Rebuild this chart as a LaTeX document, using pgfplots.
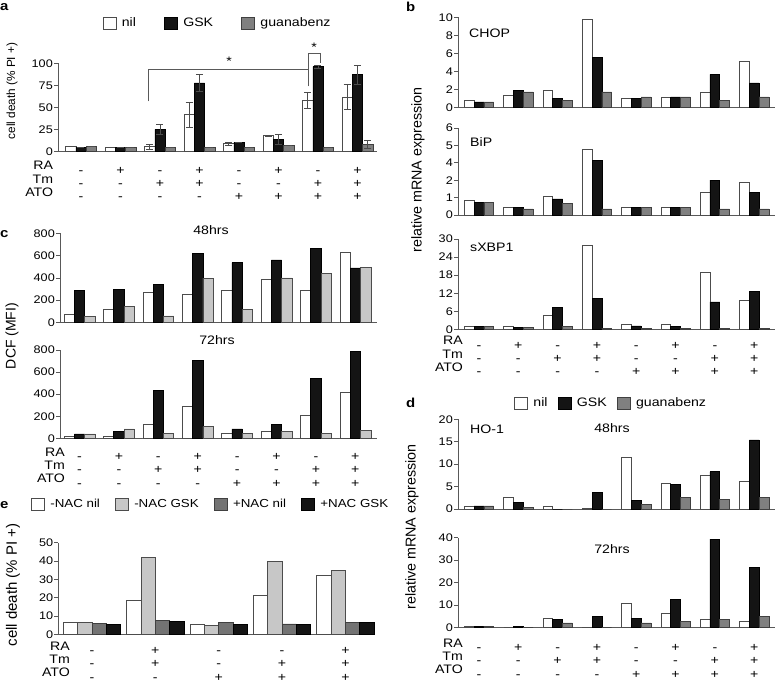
\documentclass[border=0pt]{standalone}
\usepackage{fontspec}
\setmainfont{Liberation Sans}[FakeStretch=1.15]
\newfontfamily\vfont{Liberation Sans}
\usepackage{pgfplots}
\pgfplotsset{compat=1.18}
\usepackage{pgfplotstable}

\newcommand\tickfont{\fontsize{11}{13}\selectfont}
\newcommand\labfont{\fontsize{12.3}{13.3}\selectfont}
\newcommand\sg[3]{\strut#1\\\strut#2\\\rule{0pt}{.7\baselineskip}#3}

\definecolor{gskc}{gray}{0.08}
\definecolor{guac}{gray}{0.50}
\definecolor{lgray}{gray}{0.78}
\definecolor{dgray}{gray}{0.45}

\pgfplotstableread{
x nil nile gsk gske gua guae
0 6 0 5 0 5.5 0
1 4.7 0 4.3 0 4.3 0
2 5.5 3 25 6 5 0
3 41.8 14 78 9.5 5 0
4 8.8 1.5 10.4 0 5 0
5 18 0.5 14.2 5.8 6.5 0
6 58 8.8 96.4 2 5 0
7 61.8 14.2 87.5 10.8 8 4.5
}\dataA

\pgfplotstableread{
x nil gsk gua
0 0.85 0.65 0.65
1 1.4 1.9 1.75
2 1.9 1.05 0.85
3 9.85 5.6 1.75
4 1.05 1.05 1.2
5 1.2 1.2 1.2
6 1.7 3.7 0.85
7 5.1 2.75 1.2
}\dataChop

\pgfplotstableread{
x nil gsk gua
0 0.85 0.72 0.72
1 0.45 0.45 0.35
2 1.05 0.92 0.65
3 3.78 3.14 0.35
4 0.45 0.45 0.45
5 0.45 0.45 0.45
6 1.3 2.0 0.35
7 1.86 1.32 0.35
}\dataBip

\pgfplotstableread{
x nil gsk gua
0 1.0 0.9 0.9
1 1.0 0.5 0.5
2 4.8 7.3 1.0
3 28 10.2 0.4
4 1.6 1.1 0.4
5 1.6 1.0 0.4
6 19.1 9.1 0.4
7 9.6 12.6 0.4
}\dataXbp

\pgfplotstableread{
x nil gsk gua
0 75 285 58
1 117 297 143
2 270 343 60
3 255 618 398
4 285 537 117
5 383 562 400
6 285 662 440
7 633 490 495
}\dataCa

\pgfplotstableread{
x nil gsk gua
0 22 40 40
1 22 62 85
2 127 435 42
3 293 708 105
4 42 85 42
5 62 125 65
6 208 542 42
7 415 790 68
}\dataCb

\pgfplotstableread{
x nil gsk gua
0 0.7 0.7 0.7
1 2.6 1.55 0.35
2 0.7 0 0
3 0.2 3.7 0
4 11.5 1.85 1.0
5 5.8 5.5 2.6
6 7.6 8.3 2.2
7 6.15 15.4 2.6
}\dataDa

\pgfplotstableread{
x nil gsk gua
0 0.5 0.5 0.5
1 0 0.5 0
2 4.2 3.4 2.0
3 0 4.7 0
4 10.5 4.0 2.0
5 6.2 12.5 2.7
6 3.5 39.4 3.5
7 2.7 26.6 4.7
}\dataDb

\pgfplotstableread{
x mnil mgsk pnil pgsk
0 6.5 6.5 5.8 5.3
1 18.5 42 7.8 6.9
2 5.5 4.9 6.4 5.3
3 21.3 40 5.7 5.3
4 32.4 35 6.5 6.7
}\dataE

\pgfplotsset{
  base/.style={
    scale only axis, clip=false, anchor=south west,
    axis x line*=bottom, axis y line*=left,
    axis line style={black!65, line width=0.8pt},
    tick align=outside, major tick length=4pt,
    ytick pos=left,
    ytick style={black!65, line width=0.8pt},
    xtick={0,...,7}, xtick style={draw=none},
    xticklabels={},
    yticklabel style={font=\tickfont, inner sep=1pt},
    /pgf/number format/assume math mode=true,
    ymin=0,
    legend image code/.code={\draw[#1] (0pt,-6pt) rectangle (13pt,6pt); \path[draw=none,fill=none] (0pt,0pt) -- (17pt,0pt);},
  },
  signstyle/.style={xticklabel style={font=\labfont, align=center, anchor=north, inner sep=0pt, yshift=#1}},
  signs8/.style={signstyle=#1,
    xticklabels={{\sg{-}{-}{-}},{\sg{+}{-}{-}},{\sg{-}{+}{-}},{\sg{+}{+}{-}},{\sg{-}{-}{+}},{\sg{+}{-}{+}},{\sg{-}{+}{+}},{\sg{+}{+}{+}}}},
  nilbar/.style={ybar, fill=white, draw=black!70, line width=0.6pt},
  gskbar/.style={ybar, fill=gskc, draw=black, line width=0.6pt},
  guabar/.style={ybar, fill=guac, draw=black!75, line width=0.6pt},
  lgbar/.style={ybar, fill=lgray, draw=black!70, line width=0.6pt},
  dgbar/.style={ybar, fill=dgray, draw=black!75, line width=0.6pt},
  eb/.style={draw=none, mark=none, forget plot,
    error bars/.cd, y dir=both, y explicit,
    error bar style={draw=black!70, line width=0.7pt},
    error mark options={rotate=90, mark size=3.5pt, draw=black!70, line width=0.7pt}},
}

\begin{document}
\begin{tikzpicture}
\useasboundingbox (0,0) rectangle (775pt,683pt);

% ---------------- panel a
\begin{axis}[base, signs8=-9.2pt, at={(58pt,531.5pt)}, width=319pt, height=88pt,
  xmin=-0.582, xmax=7.494, ymax=100, ytick={0,25,50,75,100},
  legend columns=3,
  legend style={draw=none, fill=none, font=\labfont, at={(0.5,1.46)}, anchor=center,
    /tikz/every even column/.append style={column sep=26pt}}]
\addplot[nilbar, bar width=0.26, bar shift=-0.26] table[x=x,y=nil]{\dataA};
\addplot[gskbar, bar width=0.26, bar shift=0] table[x=x,y=gsk]{\dataA};
\addplot[guabar, bar width=0.26, bar shift=0.26] table[x=x,y=gua]{\dataA};
\addplot[eb] table[x expr=\thisrow{x}-0.26, y=nil, y error=nile]{\dataA};
\addplot[eb] table[x=x, y=gsk, y error=gske]{\dataA};
\addplot[eb] table[x expr=\thisrow{x}+0.26, y=gua, y error=guae]{\dataA};
\legend{nil,GSK,guanabenz}
\draw[black!65, line width=0.7pt] (axis cs:1.70,57) |- (axis cs:5.755,93.4);
\draw[black!65, line width=0.7pt] (axis cs:5.755,74) |- (axis cs:6.05,111.6) -- (axis cs:6.05,100.2);
\node[font=\labfont] at (axis cs:3.75,103) {*};
\node[font=\labfont] at (axis cs:5.9,119) {*};
\end{axis}

% ---------------- panel b
\begin{axis}[base, at={(458pt,575.3pt)}, width=317pt, height=90.2pt,
  xmin=-0.534, xmax=7.53, ymax=10, ytick={0,2,...,10}]
\addplot[nilbar, bar width=0.25, bar shift=-0.25] table[x=x,y=nil]{\dataChop};
\addplot[gskbar, bar width=0.25, bar shift=0] table[x=x,y=gsk]{\dataChop};
\addplot[guabar, bar width=0.25, bar shift=0.25] table[x=x,y=gua]{\dataChop};
\end{axis}
\begin{axis}[base, at={(458pt,468pt)}, width=317pt, height=87pt,
  xmin=-0.534, xmax=7.53, ymax=5, ytick={0,...,5}, yticklabels={0,1,2,4,5,6}]
\addplot[nilbar, bar width=0.25, bar shift=-0.25] table[x=x,y=nil]{\dataBip};
\addplot[gskbar, bar width=0.25, bar shift=0] table[x=x,y=gsk]{\dataBip};
\addplot[guabar, bar width=0.25, bar shift=0.25] table[x=x,y=gua]{\dataBip};
\end{axis}
\begin{axis}[base, signs8=-6.4pt, at={(458pt,353.7pt)}, width=317pt, height=90.3pt,
  xmin=-0.534, xmax=7.53, ymax=30, ytick={0,6,...,30}]
\addplot[nilbar, bar width=0.25, bar shift=-0.25] table[x=x,y=nil]{\dataXbp};
\addplot[gskbar, bar width=0.25, bar shift=0] table[x=x,y=gsk]{\dataXbp};
\addplot[guabar, bar width=0.25, bar shift=0.25] table[x=x,y=gua]{\dataXbp};
\end{axis}

% ---------------- panel c
\begin{axis}[base, at={(60pt,360.5pt)}, width=317pt, height=89.2pt,
  xmin=-0.495, xmax=7.55, ymax=800, ytick={0,200,...,800}]
\addplot[nilbar, bar width=0.262, bar shift=-0.262] table[x=x,y=nil]{\dataCa};
\addplot[gskbar, bar width=0.262, bar shift=0] table[x=x,y=gsk]{\dataCa};
\addplot[lgbar, bar width=0.262, bar shift=0.262] table[x=x,y=gua]{\dataCa};
\end{axis}
\begin{axis}[base, signs8=-8.7pt, at={(60pt,244.7pt)}, width=317pt, height=88.3pt,
  xmin=-0.495, xmax=7.55, ymax=800, ytick={0,200,...,800}]
\addplot[nilbar, bar width=0.262, bar shift=-0.262] table[x=x,y=nil]{\dataCb};
\addplot[gskbar, bar width=0.262, bar shift=0] table[x=x,y=gsk]{\dataCb};
\addplot[lgbar, bar width=0.262, bar shift=0.262] table[x=x,y=gua]{\dataCb};
\end{axis}

% ---------------- panel d
\begin{axis}[base, at={(458pt,174pt)}, width=317pt, height=89.7pt,
  xmin=-0.534, xmax=7.53, ymax=20, ytick={0,5,...,20},
  legend columns=3,
  legend style={draw=none, fill=none, font=\labfont, at={(0.483,1.182)}, anchor=center,
    /tikz/every even column/.append style={column sep=8pt}}]
\addplot[nilbar, bar width=0.25, bar shift=-0.25] table[x=x,y=nil]{\dataDa};
\addplot[gskbar, bar width=0.25, bar shift=0] table[x=x,y=gsk]{\dataDa};
\addplot[guabar, bar width=0.25, bar shift=0.25] table[x=x,y=gua]{\dataDa};
\legend{nil,GSK,guanabenz}
\end{axis}
\begin{axis}[base, signs8=-10.7pt, at={(458pt,55.7pt)}, width=317pt, height=89.6pt,
  xmin=-0.534, xmax=7.53, ymax=40, ytick={0,10,...,40}]
\addplot[nilbar, bar width=0.25, bar shift=-0.25] table[x=x,y=nil]{\dataDb};
\addplot[gskbar, bar width=0.25, bar shift=0] table[x=x,y=gsk]{\dataDb};
\addplot[guabar, bar width=0.25, bar shift=0.25] table[x=x,y=gua]{\dataDb};
\end{axis}

% ---------------- panel e
\begin{axis}[base, signstyle=-6.7pt, at={(58.3pt,48.7pt)}, width=314.7pt, height=91.6pt,
  xmin=-0.532, xmax=4.436, xtick={0,...,4},
  xticklabels={{\sg{-}{-}{-}},{\sg{+}{+}{-}},{\sg{-}{-}{+}},{\sg{-}{+}{+}},{\sg{+}{+}{+}}},
  ymax=50, ytick={0,10,...,50},
  legend columns=4,
  legend style={draw=none, fill=none, font=\fontsize{11.6}{13}\selectfont, at={(0.484,1.417)}, anchor=center,
    /tikz/every even column/.append style={column sep=13pt}}]
\addplot[nilbar, bar width=0.226, bar shift=-0.339] table[x=x,y=mnil]{\dataE};
\addplot[lgbar, bar width=0.226, bar shift=-0.113] table[x=x,y=mgsk]{\dataE};
\addplot[dgbar, bar width=0.226, bar shift=0.113] table[x=x,y=pnil]{\dataE};
\addplot[gskbar, bar width=0.226, bar shift=0.339] table[x=x,y=pgsk]{\dataE};
\legend{-NAC nil,-NAC GSK,+NAC nil,+NAC GSK}
\end{axis}

% ---------------- text
\begin{scope}[every node/.style={inner sep=0pt}]
\node[font=\bfseries\fontsize{13}{14}\selectfont, anchor=base west] at (0pt,672pt) {a};
\node[font=\bfseries\fontsize{13}{14}\selectfont, anchor=base west] at (406pt,671pt) {b};
\node[font=\bfseries\fontsize{13}{14}\selectfont, anchor=base west] at (0pt,445pt) {c};
\node[font=\bfseries\fontsize{13}{14}\selectfont, anchor=base west] at (406pt,276pt) {d};
\node[font=\bfseries\fontsize{13}{14}\selectfont, anchor=base west] at (0pt,175pt) {e};

\node[font=\labfont, anchor=base west] at (469pt,645.7pt) {CHOP};
\node[font=\labfont, anchor=base west] at (470pt,536.5pt) {BiP};
\node[font=\labfont, anchor=base west] at (470pt,431.5pt) {sXBP1};
\node[font=\labfont, anchor=base west] at (470pt,250pt) {HO-1};
\node[font=\labfont, anchor=base] at (612pt,251pt) {48hrs};
\node[font=\labfont, anchor=base] at (612pt,130pt) {72hrs};
\node[font=\labfont, anchor=base] at (211pt,448pt) {48hrs};
\node[font=\labfont, anchor=base] at (217pt,338pt) {72hrs};

\node[font=\vfont\fontsize{11.8}{13}\selectfont, rotate=90] at (12pt,592pt) {cell death (\% PI +)};
\node[font=\vfont\fontsize{14.3}{15}\selectfont, rotate=90] at (418pt,513pt) {relative mRNA expression};
\node[font=\vfont\fontsize{14}{15}\selectfont, rotate=90] at (12pt,347pt) {DCF (MFI)};
\node[font=\vfont\fontsize{14.3}{15}\selectfont, rotate=90] at (412pt,156pt) {relative mRNA expression};
\node[font=\vfont\fontsize{15}{16}\selectfont, rotate=90] at (13pt,98pt) {cell death (\% PI +)};

\foreach \xx/\ya/\yb/\yc in {53.3/513/499.7/486.4, 463/338/324.7/311.4, 65/226.7/213.4/200.1, 463/35.7/22.4/9.1, 70/32.7/19.4/6.1}{
  \node[font=\labfont, anchor=base east] at (\xx pt,\ya pt) {RA};
  \node[font=\labfont, anchor=base east] at (\xx pt,\yb pt) {Tm};
  \node[font=\labfont, anchor=base east] at (\xx pt,\yc pt) {ATO};
}
\end{scope}
\end{tikzpicture}
\end{document}
